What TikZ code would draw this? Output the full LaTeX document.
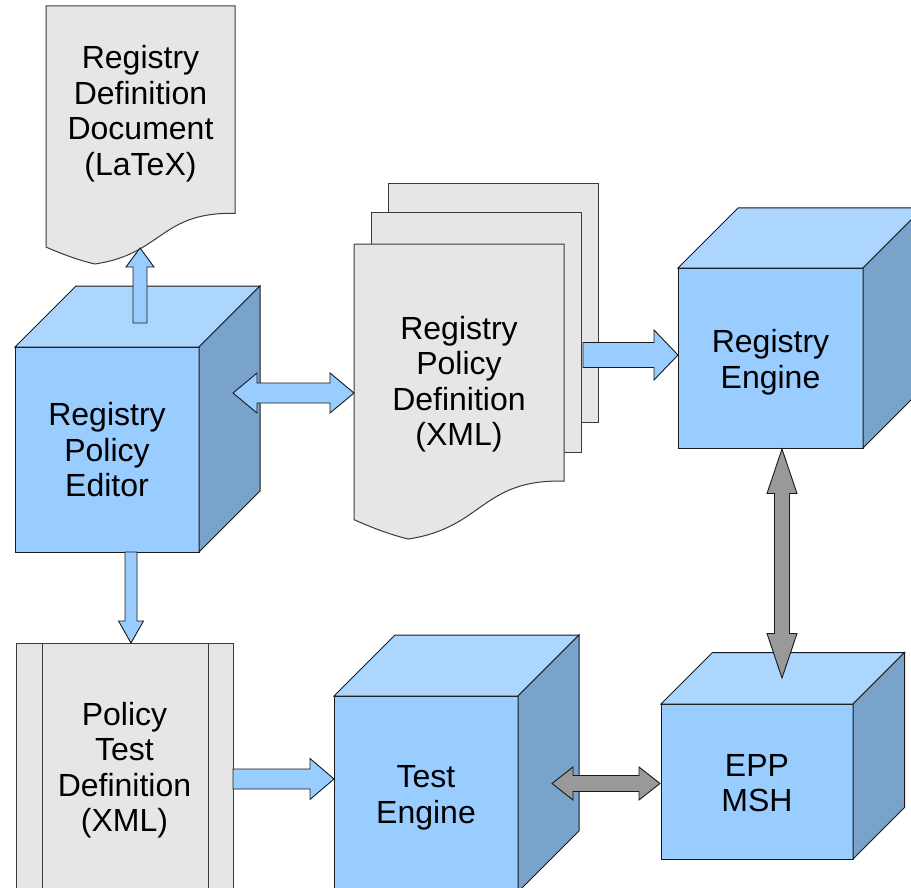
\documentclass[tikz,border=0pt]{standalone}
\usepackage{fontspec}
\setmainfont{Liberation Sans}
\usetikzlibrary{calc}
\definecolor{frontc}{HTML}{99CCFF}
\definecolor{topc}{HTML}{ADD6FF}
\definecolor{sidec}{HTML}{7AA3CC}
\definecolor{docc}{HTML}{E6E6E6}
\definecolor{grayarrow}{HTML}{999999}
\definecolor{edgec}{HTML}{1A1A1A}
\definecolor{docedge}{HTML}{3A3A3A}

% single block arrow: style, from, to, shaft half width, head half width, head length
\newcommand{\sarrow}[6]{%
  \coordinate (hbx) at ($(#3)!#6!(#2)$);
  \draw[#1] ($(#2)!#4!90:(#3)$) -- ($(hbx)!#4!90:(#3)$) -- ($(hbx)!#5!90:(#3)$) -- (#3)
    -- ($(hbx)!#5!-90:(#3)$) -- ($(hbx)!#4!-90:(#3)$) -- ($(#2)!#4!-90:(#3)$) -- cycle;}
% double block arrow
\newcommand{\darrow}[6]{%
  \coordinate (hax) at ($(#2)!#6!(#3)$);
  \coordinate (hbx) at ($(#3)!#6!(#2)$);
  \draw[#1] (#2) -- ($(hax)!#5!90:(#3)$) -- ($(hax)!#4!90:(#3)$) -- ($(hbx)!#4!90:(#3)$)
    -- ($(hbx)!#5!90:(#3)$) -- (#3) -- ($(hbx)!#5!-90:(#3)$) -- ($(hbx)!#4!-90:(#3)$)
    -- ($(hax)!#4!-90:(#3)$) -- ($(hax)!#5!-90:(#3)$) -- cycle;}
% cube faces behind a front node: node name, depth
\newcommand{\cubefaces}[2]{%
  \draw[topface] (#1.north west) -- ++(#2,#2) -- ($(#1.north east)+(#2,#2)$) -- (#1.north east) -- cycle;
  \draw[sideface] (#1.north east) -- ++(#2,#2) -- ($(#1.south east)+(#2,#2)$) -- (#1.south east) -- cycle;}
% document shape: x0, y0, w, h
\newcommand{\docshape}[4]{%
  \draw[docstyle] (#1,#2) -- ({#1+#3},#2) -- ({#1+#3},{#2+0.8037*#4})
    .. controls ({#1+0.6042*#3},{#2+0.7972*#4}) and ({#1+0.6176*#3},{#2+0.9616*#4}) .. ({#1+0.2583*#3},{#2+#4})
    .. controls ({#1+0.17*#3},{#2+0.985*#4}) and ({#1+0.08*#3},{#2+0.96*#4}) .. (#1,{#2+0.9343*#4}) -- cycle;}

\tikzset{
  lbl/.style={align=center, font=\fontsize{32pt}{35.5pt}\selectfont, inner sep=0pt, outer sep=0pt},
  cubefront/.style={draw=edgec, fill=frontc, line width=1pt, inner sep=0pt, outer sep=0pt},
  topface/.style={draw=edgec, fill=topc, line width=1pt, line join=miter},
  sideface/.style={draw=edgec, fill=sidec, line width=1pt, line join=miter},
  docstyle/.style={draw=docedge, fill=docc, line width=1pt},
  barrow/.style={draw=edgec, fill=frontc, line width=0.9pt, line join=miter},
  garrow/.style={draw=edgec, fill=grayarrow, line width=0.9pt, line join=miter}
}

\begin{document}
\begin{tikzpicture}[x=1pt,y=-1pt]
\useasboundingbox (0,0) rectangle (911,888);
\clip (0,0) rectangle (911,888);
\fill[white] (0,0) rectangle (911,888);

% Registry Definition Document
\docshape{46}{6}{189}{258}
\node[lbl] (rdd) at (140.5,113.5) {Registry\\Definition\\Document\\(LaTeX)};

% Registry Policy Definition (stack)
\draw[docstyle] (388,184) rectangle (598,422);
\draw[docstyle] (371,213) rectangle (581,452);
\docshape{354}{244}{210}{295}
\node[lbl] (rpd) at (459,384) {Registry\\Policy\\Definition\\(XML)};

% Registry Policy Editor
\node[cubefront, minimum width=184pt, minimum height=205pt] (editor) at (107,449.5) {};
\cubefaces{editor}{61pt}
\node[lbl] (editortxt) at (107,450) {Registry\\Policy\\Editor};

% Registry Engine
\node[cubefront, minimum width=185pt, minimum height=180pt] (regeng) at (770.5,358) {};
\cubefaces{regeng}{60pt}
\node[lbl] (regengtxt) at (770.5,362) {Registry\\Engine};

% Policy Test Definition
\node[draw=docedge, fill=docc, line width=1pt, inner sep=0pt, outer sep=0pt, minimum width=217pt, minimum height=250pt] (ptd) at (124.5,768) {};
\draw[docedge, line width=1pt] ($(ptd.north west)+(26pt,0)$) -- ($(ptd.south west)+(26pt,0)$);
\draw[docedge, line width=1pt] ($(ptd.north east)+(-25pt,0)$) -- ($(ptd.south east)+(-25pt,0)$);
\node[lbl] (ptdtxt) at (124.5,770) {Policy\\Test\\Definition\\(XML)};

% Test Engine
\node[cubefront, minimum width=184pt, minimum height=196pt] (testeng) at (426,794) {};
\cubefaces{testeng}{61pt}
\node[lbl] (testengtxt) at (426,798) {Test\\Engine};

% EPP MSH
\node[cubefront, minimum width=192pt, minimum height=155pt] (epp) at (757,781.5) {};
\cubefaces{epp}{51.5pt}
\node[lbl] (epptxt) at (757,783) {EPP\\MSH};

% connector end points
\coordinate (a1s) at (140,323);
\coordinate (a1e) at (140,248);
\coordinate (a2s) at (233,393);
\coordinate (a2e) at (354,393);
\coordinate (a3s) at (583,355);
\coordinate (a3e) at (678,355);
\coordinate (a4s) at (782,449);
\coordinate (a4e) at (782,678);
\coordinate (a5s) at (131,552);
\coordinate (a5e) at (131,643);
\coordinate (a6s) at (233,779);
\coordinate (a6e) at (334,779);
\coordinate (a7s) at (552,783.5);
\coordinate (a7e) at (660,783.5);

% connectors
\sarrow{barrow}{a1s}{a1e}{7pt}{14pt}{19pt}
\darrow{barrow}{a2s}{a2e}{10pt}{20pt}{24pt}
\sarrow{barrow}{a3s}{a3e}{12.5pt}{25pt}{24pt}
\darrow{garrow}{a4s}{a4e}{7.5pt}{15pt}{44.5pt}
\sarrow{barrow}{a5s}{a5e}{6pt}{12.5pt}{22pt}
\sarrow{barrow}{a6s}{a6e}{10pt}{20.5pt}{24pt}
\darrow{garrow}{a7s}{a7e}{8pt}{16.5pt}{21pt}
\end{tikzpicture}
\end{document}
